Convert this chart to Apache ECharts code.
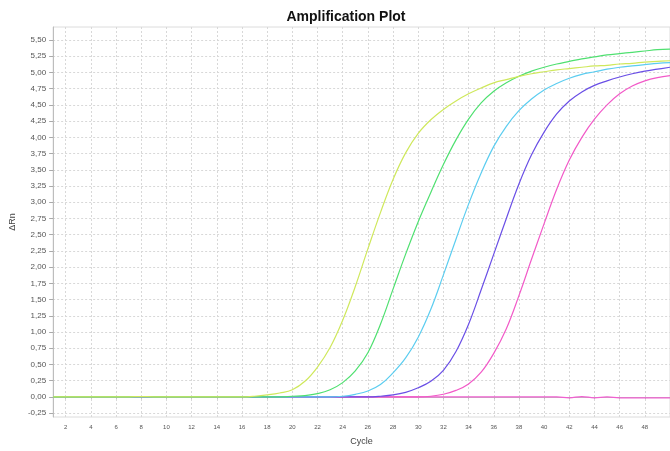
<!DOCTYPE html>
<html>
<head>
<meta charset="utf-8">
<script src="https://cdn.jsdelivr.net/npm/echarts@6/dist/echarts.min.js"></script>
<style>
  html, body { margin: 0; padding: 0; background: #fff; }
  #chart { width: 670px; height: 451px; }
</style>
</head>
<body>
<div id="chart"></div>
<script>
// cycles 1..50
var cycles = [];
for (var i = 1; i <= 50; i++) cycles.push(i);

// ΔRn per cycle
var sampleA = [0, 0, 0, 0, 0, 0, 0, 0.005, 0, 0, 0, 0, 0, 0, 0, 0,
  0.01, 0.03, 0.06, 0.11, 0.24, 0.46, 0.76, 1.18, 1.7, 2.28, 2.84, 3.35, 3.76, 4.06,
  4.27, 4.43, 4.56, 4.67, 4.76, 4.84, 4.89, 4.94, 4.98, 5.01, 5.04, 5.06, 5.08, 5.10, 5.11,
  5.13, 5.14, 5.16, 5.17, 5.18];
var sampleB = [0, 0, 0, 0, 0, 0, 0, 0.005, 0, 0, 0, 0, 0, 0, 0, 0, 0, 0, 0,
  0.01, 0.02, 0.05, 0.11, 0.22, 0.4, 0.68, 1.12, 1.66, 2.2, 2.7, 3.15, 3.58, 3.96, 4.28,
  4.53, 4.71, 4.84, 4.94, 5.02, 5.08, 5.13, 5.17, 5.21, 5.24, 5.27, 5.29, 5.31, 5.33, 5.35, 5.36];
var sampleC = [0, 0, 0, 0, 0, 0, 0, 0, 0, 0, 0, 0, 0, 0, 0, 0, 0, 0, 0, 0, 0, 0, 0,
  0.01, 0.04, 0.09, 0.19, 0.37, 0.6, 0.92, 1.35, 1.88, 2.43, 2.97, 3.45, 3.86, 4.17, 4.41,
  4.59, 4.73, 4.83, 4.91, 4.97, 5.01, 5.05, 5.08, 5.10, 5.12, 5.14, 5.15];
var sampleD = [0, 0, 0, 0, 0, 0, 0, 0, 0, 0, 0, 0, 0, 0, 0, 0, 0, 0, 0, 0, 0, 0, 0, 0, 0, 0,
  0.01, 0.03, 0.07, 0.14, 0.24, 0.41, 0.7, 1.12, 1.65, 2.2, 2.75, 3.28, 3.73, 4.08, 4.36,
  4.56, 4.70, 4.80, 4.87, 4.93, 4.98, 5.02, 5.05, 5.08];
var sampleE = [0, 0, 0, 0, 0, 0, 0, 0, 0, 0, 0, 0, 0, 0, 0, 0, 0, 0, 0, 0, 0, 0, 0, 0, 0, 0, 0, 0, 0, 0,
  0.01, 0.04, 0.1, 0.2, 0.38, 0.67, 1.05, 1.56, 2.12, 2.67, 3.2, 3.65, 4.0, 4.28, 4.5,
  4.67, 4.79, 4.87, 4.92, 4.95];
var negative = [0, 0, 0, 0, 0, 0, 0, 0, 0, 0, 0, 0, 0, 0, 0, 0, 0, 0, 0, 0, 0, 0, 0, 0, 0,
  0, 0, 0, 0, 0, 0, 0, 0, 0, 0, 0, 0, 0, 0, 0, 0, -0.015, 0.005, -0.015, 0, -0.015,
  -0.015, -0.015, -0.015, -0.015];

var xTicks = [2, 4, 6, 8, 10, 12, 14, 16, 18, 20, 22, 24, 26, 28, 30, 32, 34, 36, 38, 40, 42, 44, 46, 48];
var yTicks = [-0.25, 0, 0.25, 0.5, 0.75, 1, 1.25, 1.5, 1.75, 2, 2.25, 2.5, 2.75, 3, 3.25, 3.5,
  3.75, 4, 4.25, 4.5, 4.75, 5, 5.25, 5.5];

function pairs(values) {
  return values.map(function (v, i) { return [cycles[i], v]; });
}

function curve(name, values, color) {
  return {
    name: name,
    type: 'line',
    data: pairs(values),
    showSymbol: false,
    smooth: 0.4,
    lineStyle: { color: color, width: 1.2 },
    itemStyle: { color: color },
    silent: true
  };
}

var chart = echarts.init(document.getElementById('chart'));
var font = '"Liberation Sans", Arial, sans-serif';

chart.setOption({
  animation: false,
  textStyle: { fontFamily: font },
  title: {
    text: 'Amplification Plot',
    left: 341,
    top: 5,
    textAlign: 'center',
    textStyle: { fontSize: 14, fontWeight: 'bold', color: '#111', fontFamily: font }
  },
  grid: {
    left: 53, top: 27, right: -3, bottom: 30,
    show: true, borderColor: '#dcdcdc', borderWidth: 1
  },
  xAxis: {
    type: 'value',
    min: 1,
    max: 50,
    name: 'Cycle',
    nameLocation: 'middle',
    nameGap: 20,
    nameTextStyle: { fontSize: 9, color: '#444' },
    axisLine: { lineStyle: { color: '#bdbdbd' } },
    axisTick: { show: true, length: 2, customValues: xTicks, lineStyle: { color: '#bdbdbd' } },
    axisLabel: { customValues: xTicks, fontSize: 6, color: '#555', margin: 7 },
    splitLine: { show: true, lineStyle: { color: '#d8d8d8', type: [2, 2] } }
  },
  yAxis: {
    type: 'value',
    min: -0.31,
    max: 5.70,
    name: 'ΔRn',
    nameLocation: 'middle',
    nameGap: 34,
    nameTextStyle: { fontSize: 9, color: '#444' },
    axisLine: { show: true, lineStyle: { color: '#bdbdbd' } },
    axisTick: { show: true, length: 4, customValues: yTicks, lineStyle: { color: '#aaa' } },
    axisLabel: {
      customValues: yTicks,
      fontSize: 8,
      color: '#555',
      margin: 7,
      formatter: function (v) { return v.toFixed(2).replace('.', ','); }
    },
    splitLine: { show: true, lineStyle: { color: '#d8d8d8', type: [2, 2] } }
  },
  series: [
    curve('NTC', negative, '#f060d0'),
    curve('Sample E', sampleE, '#f25ac8'),
    curve('Sample D', sampleD, '#6a4fe6'),
    curve('Sample C', sampleC, '#5ccdf0'),
    curve('Sample B', sampleB, '#4fe070'),
    curve('Sample A', sampleA, '#cfe85c')
  ]
});
</script>
</body>
</html>
